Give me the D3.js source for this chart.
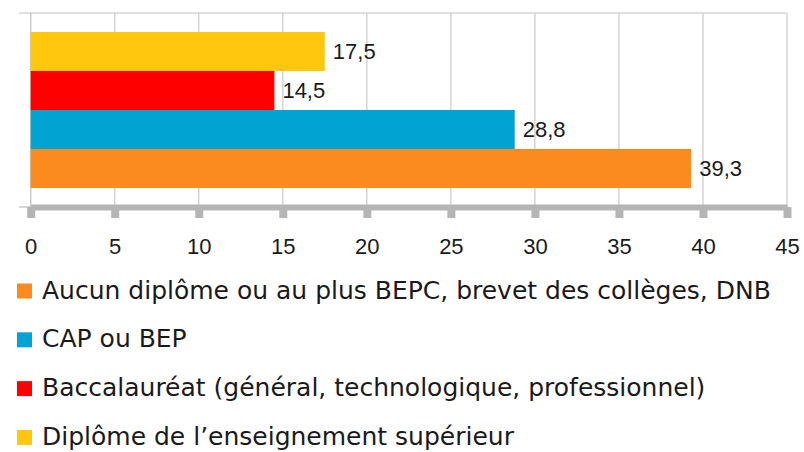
<!DOCTYPE html>
<html>
<head>
<meta charset="utf-8">
<script src="https://cdn.jsdelivr.net/npm/d3@7"></script>
<style>
  body { margin: 0; background: #fff; }
  svg { display: block; }
  .tick-label { font-family: "Liberation Sans", Arial, sans-serif; font-size: 22px; fill: #1a1a1a; }
  .legend text { font-family: "DejaVu Sans", sans-serif; font-size: 25px; fill: #1a1a1a; }
</style>
</head>
<body>
<svg id="chart" width="804" height="452"></svg>
<script>
// series, bottom bar first
var categories = [
  'Aucun diplôme ou au plus BEPC, brevet des collèges, DNB',
  'CAP ou BEP',
  'Baccalauréat (général, technologique, professionnel)',
  'Diplôme de l’enseignement supérieur'
]
var values = [39.3, 28.8, 14.5, 17.5]
var colors = ['#fb8b1e', '#00a3d2', '#ff0000', '#ffc80e']
var tickValues = [0, 5, 10, 15, 20, 25, 30, 35, 40, 45]

var svg = d3.select('#chart')
var plot = {left: 30.7, right: 787, top: 13, bottom: 207}

var x = d3.scaleLinear().domain([0, 45]).range([plot.left, plot.right])
var y = d3.scaleBand().domain(categories).range([188, 32]).padding(0)

var fmt = v => String(v).replace('.', ',')

/*
  grid + frame
*/
svg.append('g').selectAll('line')
    .data(tickValues.slice(1))
    .enter().append('line')
    .attr('x1', d => x(d)).attr('x2', d => x(d))
    .attr('y1', plot.top).attr('y2', plot.bottom)
    .attr('stroke', '#d4d4d4').attr('stroke-width', 1.5)

svg.append('line')
    .attr('x1', 19).attr('x2', plot.right)
    .attr('y1', plot.top).attr('y2', plot.top)
    .attr('stroke', '#d4d4d4').attr('stroke-width', 1.5)

svg.append('line')
    .attr('x1', plot.left).attr('x2', plot.left)
    .attr('y1', plot.top).attr('y2', plot.bottom)
    .attr('stroke', '#c8c8c8').attr('stroke-width', 1.5)

svg.append('line')
    .attr('x1', 19).attr('x2', plot.left)
    .attr('y1', plot.bottom).attr('y2', plot.bottom)
    .attr('stroke', '#c8c8c8').attr('stroke-width', 1.5)

/*
  bars
*/
svg.append('g').selectAll('rect')
    .data(values)
    .enter().append('rect')
    .attr('x', x(0))
    .attr('y', (d, i) => y(categories[i]))
    .attr('width', d => x(d) - x(0))
    .attr('height', y.bandwidth())
    .attr('fill', (d, i) => colors[i])

svg.append('g').selectAll('text')
    .data(values)
    .enter().append('text')
    .classed('tick-label', true)
    .attr('x', d => x(d) + 8)
    .attr('y', (d, i) => y(categories[i]) + y.bandwidth() / 2)
    .attr('dy', '0.36em')
    .text(fmt)

/*
  x axis
*/
var axis = svg.append('g')
    .attr('transform', `translate(0,${plot.bottom})`)
    .call(d3.axisBottom(x).tickValues(tickValues).tickSizeInner(11).tickSizeOuter(0).tickPadding(20).tickFormat(d => d))

axis.select('.domain').attr('stroke', '#b5b5b5').attr('stroke-width', 6)
axis.selectAll('.tick line').attr('stroke', '#b5b5b5').attr('stroke-width', 8)
axis.selectAll('.tick text')
    .attr('class', 'tick-label')
    .attr('font-family', null).attr('font-size', null)

/*
  legend
*/
var legend = svg.append('g').classed('legend', true)
    .selectAll('g')
    .data(categories)
    .enter().append('g')
    .attr('transform', (d, i) => `translate(17,${298.5 + i * 48.8})`)

legend.append('rect')
    .attr('x', 0).attr('y', -15)
    .attr('width', 15).attr('height', 15)
    .attr('fill', (d, i) => colors[i])

legend.append('text')
    .attr('x', 25)
    .text(d => d)
</script>
</body>
</html>
